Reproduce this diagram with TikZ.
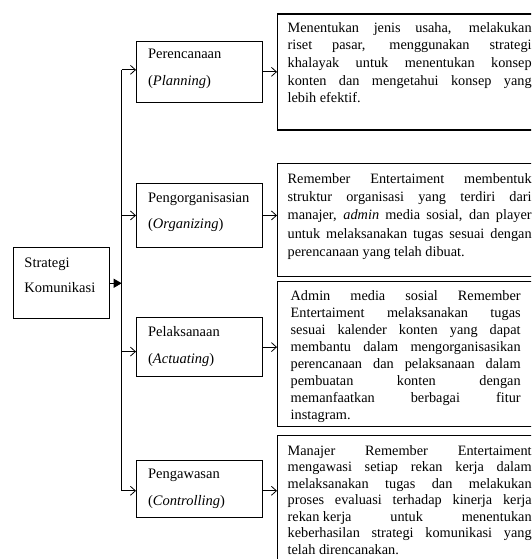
\documentclass[tikz,border=0pt]{standalone}
\usepackage{fontspec}
\setmainfont{Liberation Serif}
\usetikzlibrary{arrows.meta}
\tolerance=9999
\hbadness=10000
\hyphenpenalty=10000
\exhyphenpenalty=10000
\begin{document}
\begin{tikzpicture}[x=1pt,y=-1pt,
  line join=miter,
  connector/.style={draw=black, line width=0.8pt},
  arr/.style={connector, -{Straight Barb[length=5pt,width=9pt]}},
  midbox/.style={draw=black, line width=0.9pt, inner xsep=11.7pt, inner ysep=0pt,
    text width=102.3pt, align=left, anchor=north west,
    font=\fontsize{14.5}{26.7}\selectfont},
  rbox/.style={draw=black, line width=1.3pt, inner xsep=10pt, inner ysep=0pt,
    text width=244pt, align=justify, anchor=north west},
  rfont/.style={font=\fontsize{14.3}{#1}\selectfont}
]
\useasboundingbox (0,0) rectangle (531,559);
\clip (0,0) rectangle (531,559);

% Strategi
\node[draw=black, line width=0.9pt, inner xsep=10.7pt, inner ysep=0pt, text width=74.6pt,
  align=left, anchor=north west, font=\fontsize{14.5}{25}\selectfont,
  text height=19.4pt, text depth=51.6pt] (s) at (13.3,247.3) {Strategi\\Komunikasi};

% middle boxes
\node[midbox, text height=17.4pt, text depth=43.6pt] (p) at (136,40.9) {Perencanaan\\(\textit{Planning})};
\node[midbox, text height=19pt, text depth=45.6pt] (o) at (136,182.7) {Pengorganisasian\\(\textit{Organizing})};
\node[midbox, text height=18.7pt, text depth=40pt] (a) at (136,317.3) {Pelaksanaan\\(\textit{Actuating})};
\node[midbox, text height=18pt, text depth=38.7pt] (w) at (136,460) {Pengawasan\\(\textit{Controlling})};

% right boxes
\node[rbox, rfont=17.6, text height=18.2pt, text depth=97.8pt] (r1) at (277,13.4)
 {Menentukan jenis usaha, melakukan\linebreak
  riset pasar, menggunakan strategi\linebreak
  khalayak untuk menentukan konsep\linebreak
  konten dan mengetahui konsep yang\linebreak
  lebih efektif.};
\node[rbox, rfont=18.3, text height=19.5pt, text depth=93.5pt] (r2) at (277,163)
 {Remember Entertaiment membentuk\linebreak
  struktur organisasi yang terdiri dari\linebreak
  manajer, \textit{admin} media sosial, dan player\linebreak
  untuk melaksanakan tugas sesuai dengan\linebreak
  perencanaan yang telah dibuat.};
\node[rbox, rfont=17.1, inner xsep=13pt, text width=230pt, text height=18.5pt, text depth=126pt] (r3) at (277,281)
 {Admin media sosial Remember\linebreak
  Entertaiment melaksanakan tugas\linebreak
  sesuai kalender konten yang dapat\linebreak
  membantu dalam mengorganisasikan\linebreak
  perencanaan dan pelaksanaan dalam\linebreak
  pembuatan konten dengan\linebreak
  memanfaatkan berbagai fitur\linebreak
  instagram.};
\node[rbox, rfont=16.5, text height=20pt, text depth=200pt] (r4) at (277,434.5)
 {Manajer Remember Entertaiment\linebreak
  mengawasi setiap rekan kerja dalam\linebreak
  melaksanakan tugas dan melakukan\linebreak
  proses evaluasi terhadap kinerja kerja\linebreak
  \mbox{rekan kerja} untuk menentukan\linebreak
  keberhasilan strategi komunikasi yang\linebreak
  telah direncanakan.};

% bus
\coordinate (bus) at (121.7,282.8);
\coordinate (pin) at ([yshift=2pt]p.west);
\coordinate (oin) at (o.west);
\coordinate (ain) at ([yshift=-4.5pt]a.west);
\coordinate (win) at ([yshift=-2pt]w.west);
\coordinate (wout) at ([yshift=-2pt]w.east);

\draw[connector] (pin -| bus) -- (win -| bus);
\draw[line width=0.9pt, -{Triangle[length=8pt,width=9pt]}] (s.east) -- (s.east -| bus);

\draw[arr] (pin -| bus) -- (pin);
\draw[arr] (oin -| bus) -- (oin);
\draw[arr] (ain -| bus) -- (ain);
\draw[arr] (win -| bus) -- (win);

\draw[arr] (p.east) -- (p.east -| r1.west);
\draw[arr] (o.east) -- (o.east -| r2.west);
\draw[arr] (a.east) -- (a.east -| r3.west);
\draw[arr] (wout) -- (wout -| r4.west);
\end{tikzpicture}
\end{document}
